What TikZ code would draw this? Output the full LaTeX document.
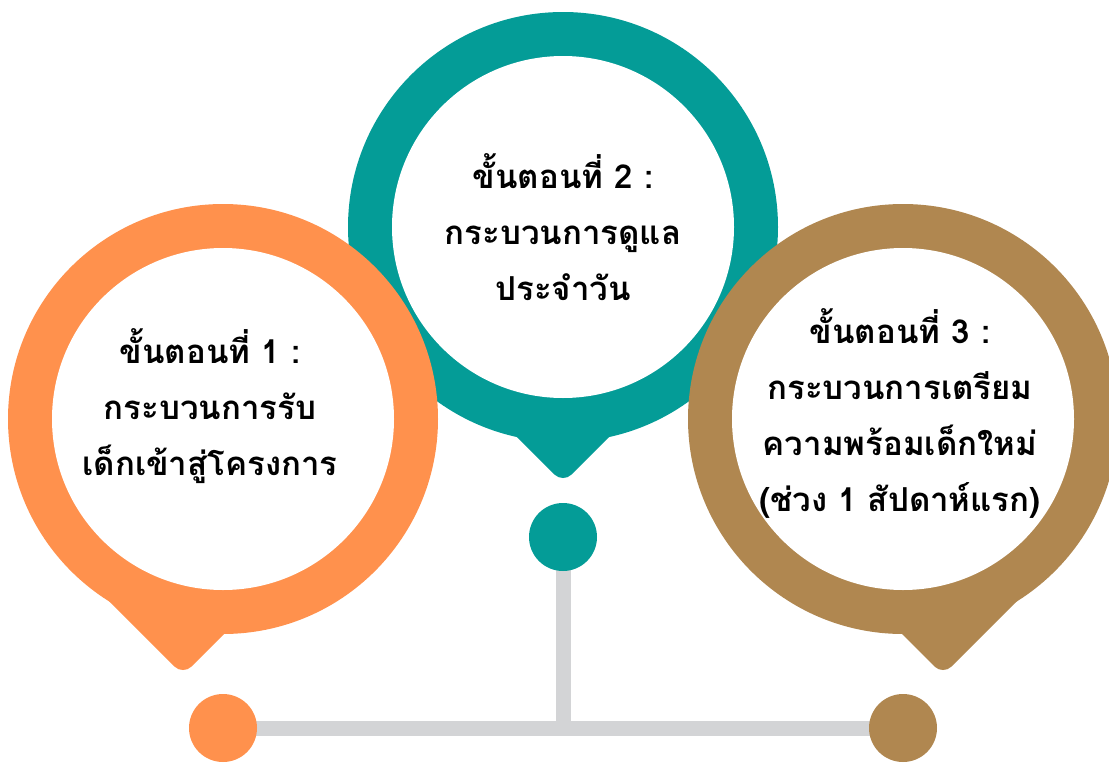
\documentclass[tikz,border=0pt]{standalone}
\usepackage{fontspec}
\newfontfamily\thaifont[Script=Thai]{Loma}
\usetikzlibrary{backgrounds}
\definecolor{porange}{RGB}{255,145,77}
\definecolor{pteal}{RGB}{4,156,151}
\definecolor{pbrown}{RGB}{176,135,80}
\definecolor{pgray}{RGB}{211,212,214}
\begin{document}
\begin{tikzpicture}[x=1pt,y=-1pt,
  dotnode/.style={circle,minimum size=68pt,inner sep=0pt,draw=none},
  tipshape/.style={rounded corners=12pt},
  steptext/.style={align=center,text=black,inner sep=0pt,
    font=\thaifont\bfseries\fontsize{33}{56}\selectfont},
  linkline/.style={draw=pgray,line width=15pt}]
\useasboundingbox (0,0) rectangle (1109,763);
\clip (0,0) rectangle (1109,763);
% teal pin (behind)
\fill[pteal] (563,227) circle[radius=215pt];
\fill[pteal,tipshape] (422,342) -- (563,483) -- (704,342) -- (563,201) -- cycle;
\fill[white] (563,227) circle[radius=171pt];
% orange pin
\fill[porange] (223,419) circle[radius=215pt];
\fill[porange,tipshape] (43,535) -- (183,675) -- (323,535) -- (183,395) -- cycle;
\fill[white] (223,419) circle[radius=171pt];
% brown pin
\fill[pbrown] (903,419) circle[radius=215pt];
\fill[pbrown,tipshape] (803,535) -- (943,675) -- (1083,535) -- (943,395) -- cycle;
\fill[white] (903,419) circle[radius=171pt];
% texts
\node[steptext] (t1) at (210,406) {ขั้นตอนที่ 1 :\\กระบวนการรับ\\เด็กเข้าสู่โครงการ};
\node[steptext] (t2) at (563,227) {ขั้นตอนที่ 2 :\\กระบวนการดูแล\\ประจำวัน};
\node[steptext] (t3) at (900,413) {ขั้นตอนที่ 3 :\\กระบวนการเตรียม\\ความพร้อมเด็กใหม่\\(ช่วง 1 สัปดาห์แรก)};
% dots
\node[dotnode,fill=porange] (d1) at (223,728) {};
\node[dotnode,fill=pteal] (d2) at (563,537) {};
\node[dotnode,fill=pbrown] (d3) at (903,728) {};
\coordinate (j) at (563,728);
\begin{scope}[on background layer]
\draw[linkline] (d1.center) -- (d3.center);
\draw[linkline] (d2.center) -- (j);
\end{scope}
\end{tikzpicture}
\end{document}
